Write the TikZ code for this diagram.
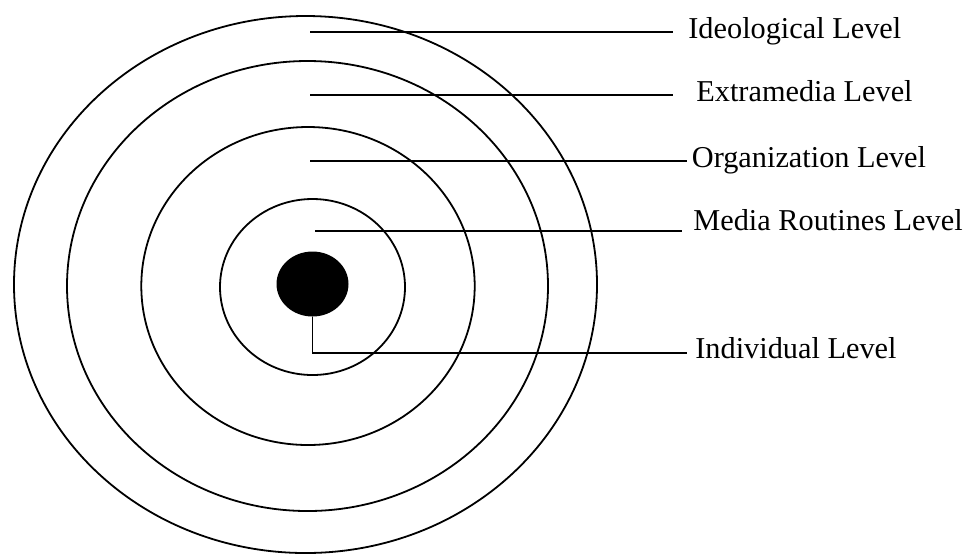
\documentclass[tikz,border=0pt]{standalone}
\usepackage{fontspec}
\setmainfont{Liberation Serif}
\usetikzlibrary{shapes.geometric}
\tikzset{
  ring/.style={draw, line width=0.9pt},
  core/.style={ellipse, fill=black, inner sep=0pt, minimum width=36pt, minimum height=32.5pt},
  levellabel/.style={anchor=base west, inner sep=0pt, font=\fontsize{15.15}{18}\selectfont},
  leader/.style={line width=0.75pt},
}

\begin{document}
\begin{tikzpicture}[x=0.5pt, y=-0.5pt]
  \useasboundingbox (0,0) rectangle (974,554);
  \draw[ring] (305.5,284.5) ellipse [x radius=291.5, y radius=268.5];
  \draw[ring] (307.5,286) ellipse [x radius=240.5, y radius=225];
  \draw[ring] (308,286) ellipse [x radius=166.7, y radius=159];
  \draw[ring] (312.5,287) ellipse [x radius=92.5, y radius=88];
  \node[core] (core) at (312.5,284) {};

  \node[levellabel] (ideo) at (688,38) {Ideological Level};
  \node[levellabel] (extra) at (696,101) {Extramedia Level};
  \node[levellabel] (org) at (691.5,167) {Organization Level};
  \node[levellabel] (routine) at (693,230) {Media Routines Level};
  \node[levellabel] (indiv) at (695,358) {Individual Level};

  \coordinate (s1) at (310,32);
  \coordinate (s2) at (310,95);
  \coordinate (s3) at (310,161);
  \coordinate (s4) at (315,231);
  \coordinate (bend) at (312.5,353);
  \draw[leader, shorten >=7.5pt] (s1) -- (s1 -| ideo.west);
  \draw[leader, shorten >=11.5pt] (s2) -- (s2 -| extra.west);
  \draw[leader, shorten >=2.25pt] (s3) -- (s3 -| org.west);
  \draw[leader, shorten >=5.5pt] (s4) -- (s4 -| routine.west);
  \draw[leader, shorten >=4pt] (core.south) -- (bend) -- (bend -| indiv.west);
\end{tikzpicture}
\end{document}
